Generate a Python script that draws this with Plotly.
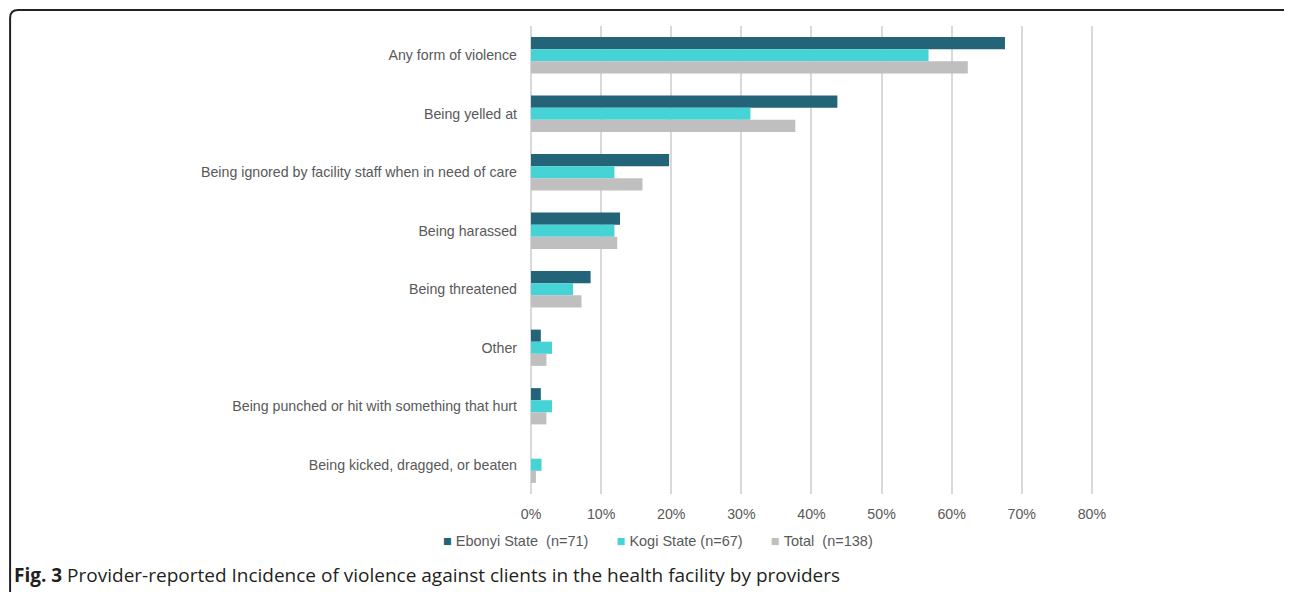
import plotly.graph_objects as go

categories = [
    "Any form of violence",
    "Being yelled at",
    "Being ignored by facility staff when in need of care",
    "Being harassed",
    "Being threatened",
    "Other",
    "Being punched or hit with something that hurt",
    "Being kicked, dragged, or beaten",
]
ebonyi = [67.6, 43.7, 19.7, 12.7, 8.5, 1.4, 1.4, 0.0]
kogi = [56.7, 31.3, 11.9, 11.9, 6.0, 3.0, 3.0, 1.5]
total = [62.3, 37.7, 15.9, 12.3, 7.2, 2.2, 2.2, 0.7]
series_names = ["Ebonyi State  (n=71)", "Kogi State (n=67)", "Total  (n=138)"]
series_colors = ["#236479", "#45d3d6", "#bfbfbf"]
x_ticks = [0, 10, 20, 30, 40, 50, 60, 70, 80]
x_max = 80.3

OFF = 8  # the page body margin shifts the figure by 8px
W, H = 1292 - OFF, 592 - OFF
L = 531 - OFF
R = L + (1092 - 531) * x_max / 80
T, B = 26 - OFF, 494 - OFF


def px_x(p):
    return (p - OFF - L) / (R - L)


def px_y(p):
    return (B - (p - OFF)) / (B - T)


fig = go.Figure()
for name, vals, col in zip(series_names, [ebonyi, kogi, total], series_colors):
    fig.add_trace(go.Bar(
        y=categories, x=vals, name=name, orientation="h",
        marker=dict(color=col, line=dict(width=0)),
        hovertemplate="%{y}: %{x:.1f}%<extra>" + name + "</extra>",
        showlegend=False,
    ))

# legend drawn as text (small squares followed by the series names)
gap = "\u00a0" * 7
legend_text = gap.join(
    f"<span style='color:{c}'>\u25a0</span>\u00a0{n.replace('  ', chr(160) * 2)}"
    for n, c in zip(series_names, series_colors)
)

# figure frame (rounded border of the panel)
r = 8
frame = (
    f"M {px_x(10)} {px_y(600)} L {px_x(10)} {px_y(10 + r)} "
    f"Q {px_x(10)} {px_y(10)} {px_x(10 + r)} {px_y(10)} "
    f"L {px_x(1291 - r)} {px_y(10)} Q {px_x(1291)} {px_y(10)} {px_x(1291)} {px_y(10 + r)} "
    f"L {px_x(1291)} {px_y(600)}"
)

fig.update_layout(
    width=W, height=H,
    margin=dict(l=L, r=W - R, t=T, b=H - B, autoexpand=False),
    paper_bgcolor="white", plot_bgcolor="white",
    barmode="group", bargap=0.38, bargroupgap=0,
    font=dict(family="Liberation Sans, Arial, sans-serif", size=14.2, color="#595959"),
    showlegend=False,
    shapes=[dict(type="path", path=frame, xref="paper", yref="paper",
                 line=dict(color="#222222", width=2), layer="above")],
    annotations=[
        dict(
            text=legend_text, xref="paper", yref="paper",
            x=px_x(658), y=px_y(541), xanchor="center", yanchor="middle",
            showarrow=False, font=dict(size=14.5, color="#595959"),
        ),
        dict(
            text="<b>Fig. 3</b> Provider-reported Incidence of violence against clients in the health facility by providers",
            xref="paper", yref="paper", x=px_x(12), y=px_y(575), xanchor="left", yanchor="middle",
            showarrow=False, font=dict(family="Open Sans, sans-serif", size=19, color="#231f20"),
        ),
    ],
)

fig.update_xaxes(
    range=[0, x_max], tickvals=x_ticks, ticktext=[f"{v}%" for v in x_ticks],
    showgrid=True, gridcolor="#d9d9d9", gridwidth=1.5,
    zeroline=True, zerolinecolor="#d9d9d9", zerolinewidth=1.5,
    showline=False, ticks="", ticklabelstandoff=10, fixedrange=True,
)
fig.update_yaxes(
    autorange="reversed", showgrid=False, zeroline=False, showline=False,
    ticks="", ticklabelstandoff=13, fixedrange=True,
)

fig.write_html("out.html")
